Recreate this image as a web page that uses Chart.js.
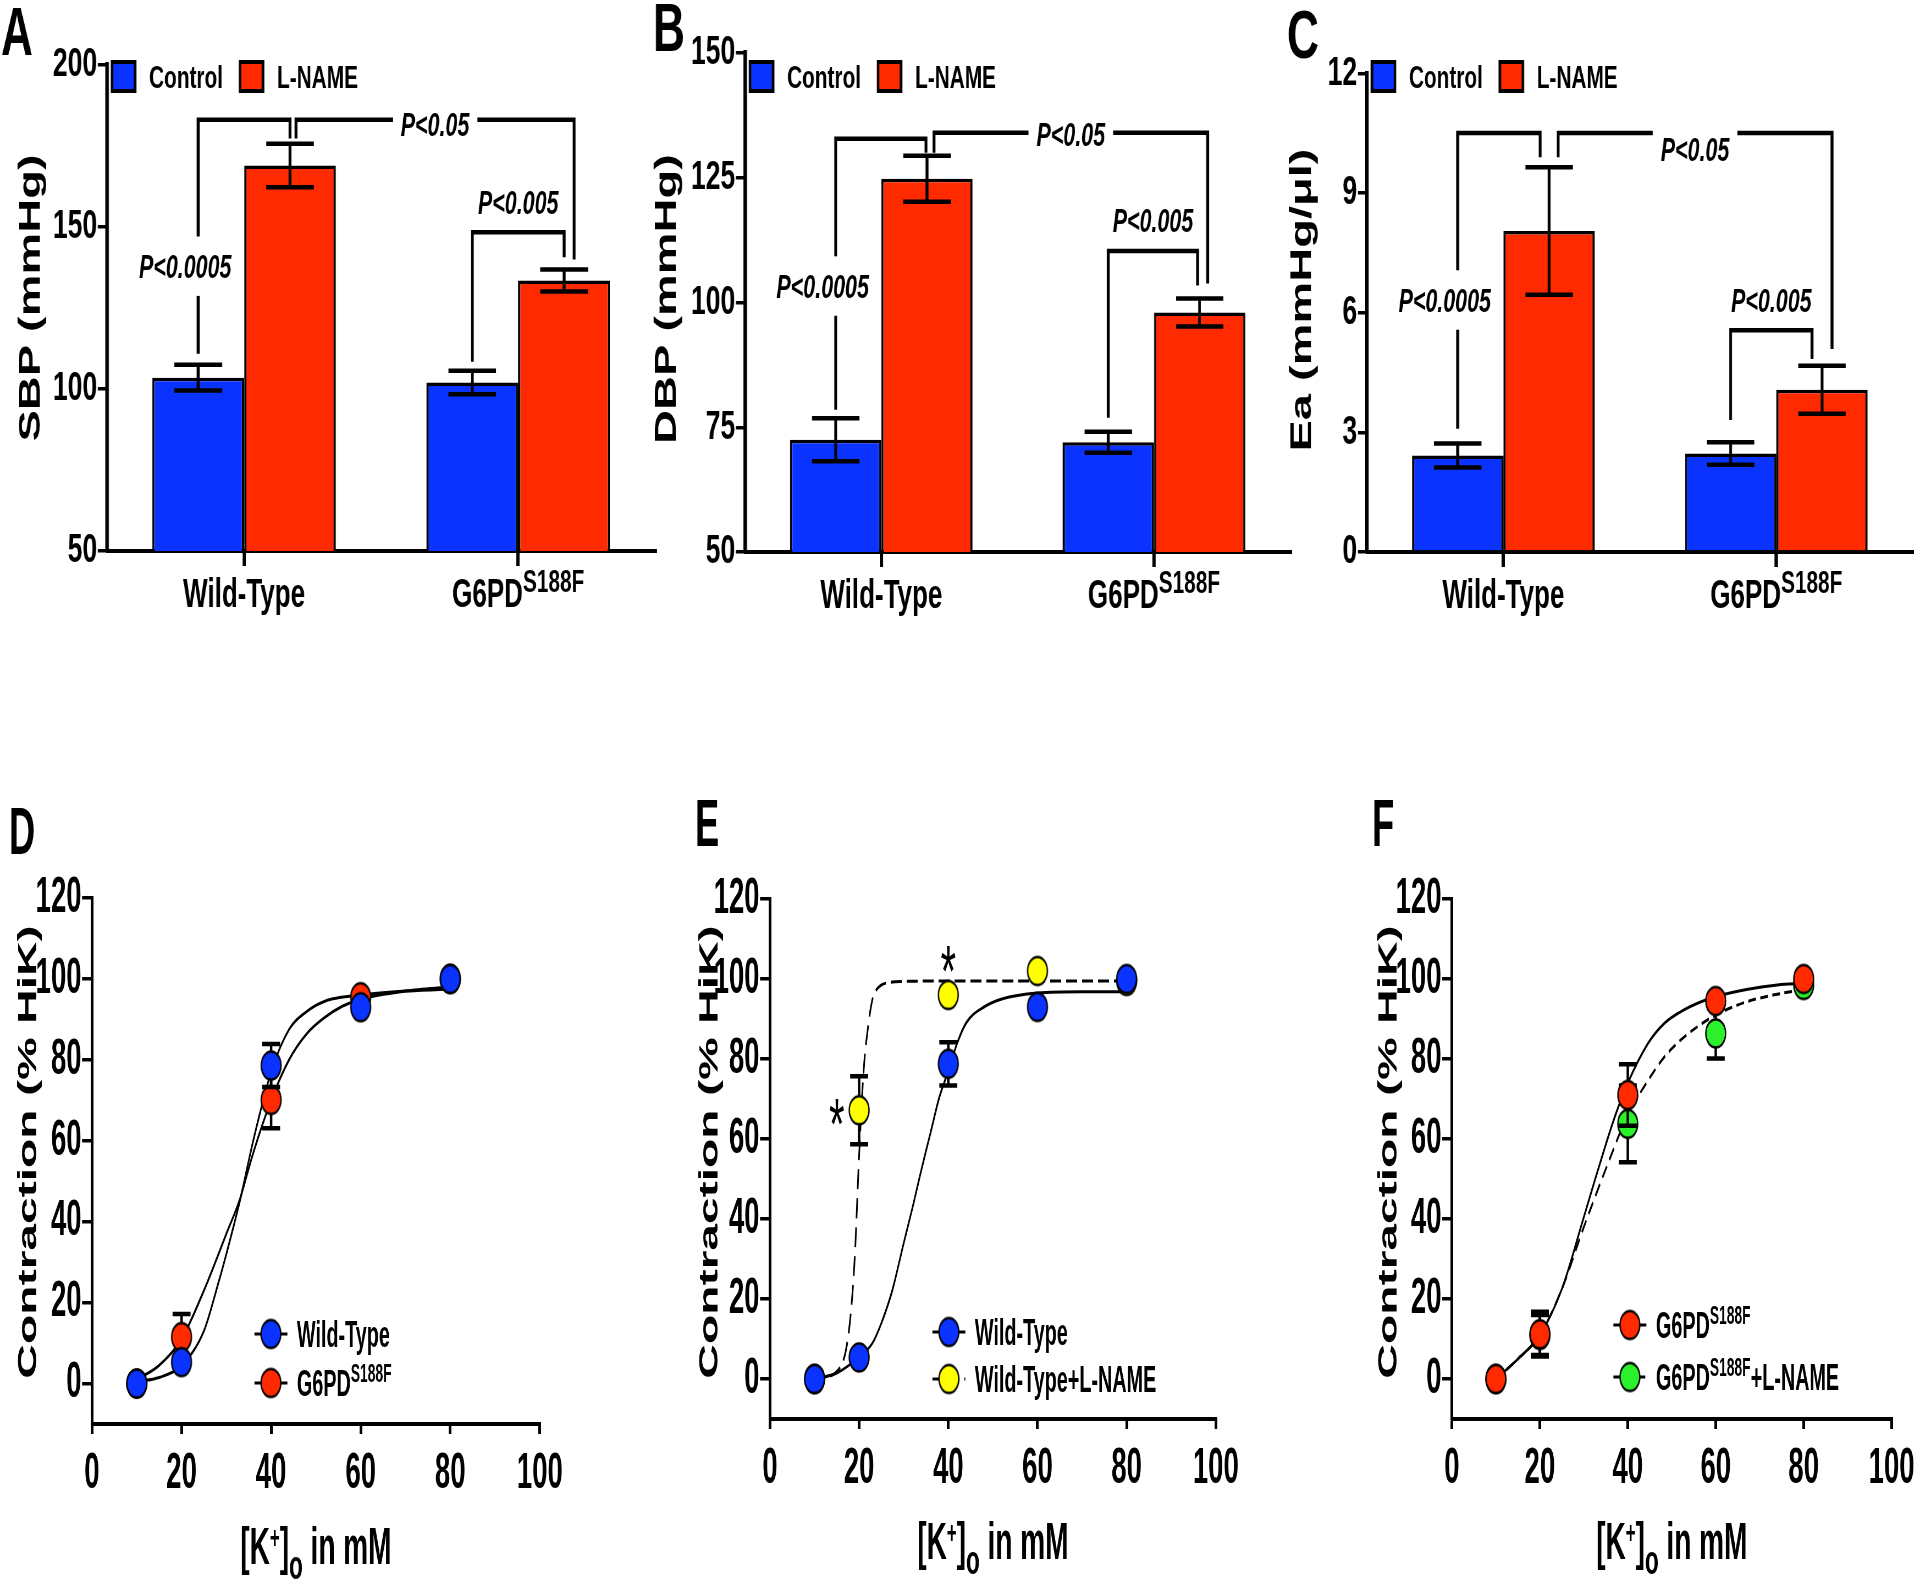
<!DOCTYPE html>
<html>
<head>
<meta charset="utf-8">
<title>Blood pressure and KCl contraction</title>
<script src="https://cdn.jsdelivr.net/npm/chart.js@4.4.1/dist/chart.umd.min.js"></script>
<style>
  html, body { margin: 0; padding: 0; background: #fff; }
  body { position: relative; width: 1920px; height: 1585px; overflow: hidden; }
  canvas { position: absolute; }
</style>
</head>
<body>
<canvas id="chartA"></canvas>
<canvas id="chartB"></canvas>
<canvas id="chartC"></canvas>
<canvas id="chartD"></canvas>
<canvas id="chartE"></canvas>
<canvas id="chartF"></canvas>
<script>
// ---- top row: bar values (mean, SEM)
const groups = ['Wild-Type', 'G6PD^{S188F}']

const sbpControl = [103.5, 102]
const sbpControlErr = [4, 3.6]
const sbpLname = [169, 133.5]
const sbpLnameErr = [6.7, 3.4]

const dbpControl = [72.5, 72]
const dbpControlErr = [4.3, 2.1]
const dbpLname = [124.8, 98]
const dbpLnameErr = [4.6, 2.8]

const eaControl = [2.42, 2.47]
const eaControlErr = [0.3, 0.28]
const eaLname = [8.05, 4.07]
const eaLnameErr = [1.6, 0.6]

// ---- bottom row: KCl concentration-response
const kConc = [10, 20, 40, 60, 80]
const contractionTicks = [0, 20, 40, 60, 80, 100, 120]

const wtD = [0, 5.3, 78.6, 93, 100]
const wtDErr = [0.5, 1.5, 5.3, 1.5, 0.5]
const g6pdD = [0, 11.5, 70.1, 95.5, 100]
const g6pdDErr = [0.5, 5.7, 7, 1.5, 0.5]
const wtFitDx = [10, 15, 20, 25, 28, 30, 33, 36, 40, 44, 48, 52, 60, 70, 80]
const wtFitDy = [0.5, 1.5, 4.5, 13, 24, 32, 45, 60, 77, 87.5, 92, 94.5, 96, 97, 97.5]
const g6pdFitDx = [10, 15, 20, 25, 30, 33, 36, 40, 44, 48, 52, 56, 60, 70, 80]
const g6pdFitDy = [1, 4.5, 11, 23, 37, 45.5, 57, 70, 80, 86.5, 90.5, 93.3, 95, 97, 98]

const wtE = [0, 5.4, 78.8, 93, 100]
const wtEErr = [0.5, 1.5, 5.4, 1.5, 0.5]
const lnameE = [0, 67.2, 96, 102, 99.5]
const lnameEErr = [0.5, 8.5, 3.8, 1.5, 0.5]
const wtFitEx = [10, 15, 20, 23, 25, 27.4, 30, 32, 34, 36, 38, 40, 42, 44, 48, 52, 60, 70, 80]
const wtFitEy = [0, 1.5, 5.5, 9, 14, 22, 34, 43, 52.5, 61.5, 70.5, 77, 84, 89, 93, 95, 96.5, 96.8, 96.8]
const lnameFitEx = [10, 14, 16, 17, 18, 19, 20, 21, 22, 23, 24, 25, 27, 30, 40, 60, 80]
const lnameFitEy = [0, 1, 3.5, 7, 15, 30, 56, 77, 88, 95, 97.5, 98.5, 99.2, 99.4, 99.5, 99.5, 99.5]
const starEx = [15, 40]
const starEy = [66.7, 105]

const g6pdF = [0, 11.2, 71, 94.5, 100]
const g6pdFErr = [0.5, 5.6, 7.7, 1.5, 0.5]
const lnameF = [0, 11, 63.8, 86.4, 98.5]
const lnameFErr = [0.5, 5, 9.6, 6.3, 0.5]
const g6pdFitFx = [10, 15, 20, 25, 30, 33, 37, 40, 44.6, 48.3, 52, 56, 60, 67, 74, 80]
const g6pdFitFy = [0, 5, 11, 22.5, 40.5, 51.5, 65.4, 74, 83.9, 88.9, 91.8, 94, 95.6, 97.4, 98.5, 98.9]
const lnameFitFx = [10, 15, 20, 25, 30, 35, 40, 44.6, 48.3, 52, 56, 60, 67, 74, 80]
const lnameFitFy = [0, 5, 11, 22.5, 38, 52.5, 66, 74.6, 80.5, 84.7, 88.2, 91, 94.3, 96.2, 97.4]

const BLUE = '#0a33ff'
const RED = '#ff2a00'
const YELLOW = '#ffff00'
const GREEN = '#2cf02c'
const FONT = '"Liberation Sans", Arial, Helvetica, sans-serif'

// the original figure is squeezed sideways, so each canvas is drawn wider and shown narrower
const TOP_SQUEEZE = 0.65
const BOTTOM_SQUEEZE = 0.55

function setupCanvas(id, box, squeeze) {
  const c = document.getElementById(id)
  c.width = Math.round(box.w / squeeze)
  c.height = box.h
  c.style.left = box.x + 'px'
  c.style.top = box.y + 'px'
  c.style.width = box.w + 'px'
  c.style.height = box.h + 'px'
  return c
}

// text with ^{sup} and _{sub} parts
function parseRich(str) {
  const parts = []
  const re = /([\^_])\{([^}]*)\}/g
  let last = 0, m
  while ((m = re.exec(str))) {
    if (m.index > last) parts.push({ t: str.slice(last, m.index), k: '' })
    parts.push({ t: m[2], k: m[1] })
    last = re.lastIndex
  }
  if (last < str.length) parts.push({ t: str.slice(last), k: '' })
  return parts
}

function drawRich(ctx, str, x, y, o) {
  const size = o.size
  const style = (o.italic ? 'italic ' : '') + (o.weight || 'bold') + ' '
  const parts = parseRich(str).map(p => {
    let s = size
    if (p.k === '^') s = size * (o.small || 0.72)
    if (p.k === '_') s = size * (o.subSmall || o.small || 0.72)
    ctx.font = style + s + 'px ' + FONT
    return { t: p.t, k: p.k, s, w: ctx.measureText(p.t).width }
  })
  const total = parts.reduce((a, p) => a + p.w, 0)
  let cx = o.align === 'center' ? x - total / 2 : x
  ctx.textAlign = 'left'
  ctx.textBaseline = 'alphabetic'
  parts.forEach(p => {
    ctx.font = style + p.s + 'px ' + FONT
    const dy = p.k === '^' ? -size * (o.rise || 0.38) : p.k === '_' ? size * (o.drop || 0.3) : 0
    ctx.fillText(p.t, cx, y + dy)
    cx += p.w
  })
  return total
}

function drawYTitle(ctx, text, x, y, size) {
  ctx.save()
  ctx.translate(x, y)
  ctx.rotate(-Math.PI / 2)
  ctx.fillStyle = '#000'
  drawRich(ctx, text, 0, size * 0.358, { size, align: 'center' })
  ctx.restore()
}

function drawLetter(ctx, p, S) {
  ctx.save()
  ctx.fillStyle = '#000'
  ctx.font = `bold ${p.letter.size}px ${FONT}`
  ctx.textAlign = 'left'
  ctx.textBaseline = 'alphabetic'
  ctx.fillText(p.letter.text, p.letter.x / S, p.letter.y)
  ctx.restore()
}

// ---------- bar panels (A, B, C)
function makeBarDecor(p, S) {
  return {
    id: 'barDecor',
    afterDatasetsDraw(chart) {
      const ctx = chart.ctx, ys = chart.scales.y
      ctx.save()
      ctx.strokeStyle = '#000'
      ctx.lineWidth = 4.5
      chart.data.datasets.forEach((ds, di) => {
        chart.getDatasetMeta(di).data.forEach((bar, i) => {
          const v = ds.data[i], e = ds.errors[i]
          const yt = ys.getPixelForValue(v + e), yb = ys.getPixelForValue(v - e)
          const half = bar.width * 0.26
          ctx.beginPath()
          ctx.moveTo(bar.x, yt); ctx.lineTo(bar.x, yb)
          ctx.moveTo(bar.x - half, yt); ctx.lineTo(bar.x + half, yt)
          ctx.moveTo(bar.x - half, yb); ctx.lineTo(bar.x + half, yb)
          ctx.stroke()
        })
      })
      ctx.restore()
    },
    afterDraw(chart) {
      const ctx = chart.ctx, area = chart.chartArea
      const xs = chart.scales.x, ys = chart.scales.y
      const px = ([ds, i, shift]) => chart.getDatasetMeta(ds).data[i].x + shift / S

      // significance brackets
      ctx.save()
      ctx.strokeStyle = '#000'
      ctx.lineWidth = 4.5
      p.brackets.forEach(b => {
        const xa = px(b.a), xb = px(b.b), yTop = ys.getPixelForValue(b.y)
        ctx.beginPath()
        ctx.moveTo(xa, ys.getPixelForValue(b.aEnd))
        ctx.lineTo(xa, yTop)
        ctx.lineTo(xb, yTop)
        ctx.lineTo(xb, ys.getPixelForValue(b.bEnd))
        ctx.stroke()
      })
      p.brackets.forEach(b => {
        const size = 33
        const xa = px(b.a), xb = px(b.b)
        const cx = b.at === 'leg' ? xa - 13 / S : (xa + xb) / 2
        const cy = ys.getPixelForValue(b.labelY)
        ctx.font = `italic bold ${size}px ${FONT}`
        const w = ctx.measureText(b.label).width
        if (b.at !== 'above') {
          const padX = 8 / S, h = b.at === 'leg' ? size * 1.8 : size * 1.3
          ctx.fillStyle = '#fff'
          ctx.fillRect(cx - w / 2 - padX, cy - h / 2, w + 2 * padX, h)
        }
        ctx.fillStyle = '#000'
        ctx.textAlign = 'center'
        ctx.textBaseline = 'alphabetic'
        ctx.fillText(b.label, cx, cy + size * 0.358)
      })
      ctx.restore()

      // category labels
      ctx.save()
      ctx.fillStyle = '#000'
      chart.data.labels.forEach((lab, i) => {
        drawRich(ctx, lab, xs.getPixelForValue(i), area.bottom + 56, { size: 40, align: 'center', small: 0.8, rise: 0.38 })
      })
      ctx.restore()

      // legend
      ctx.save()
      let x = area.left + 5 / S
      const boxW = 23 / S, boxH = 29, boxTop = 62
      chart.data.datasets.forEach(ds => {
        ctx.fillStyle = ds.backgroundColor
        ctx.fillRect(x, boxTop, boxW, boxH)
        ctx.lineWidth = 4
        ctx.strokeStyle = '#000'
        ctx.strokeRect(x, boxTop, boxW, boxH)
        x += boxW + 14 / S
        ctx.fillStyle = '#000'
        const w = drawRich(ctx, ds.label, x, boxTop + boxH / 2 + 0.358 * 32, { size: 32 })
        x += w + 17 / S
      })
      ctx.restore()

      drawYTitle(ctx, p.title, p.titleX / S, p.titleY, 47)
      drawLetter(ctx, p, S)
    }
  }
}

function barPanel(id, p) {
  const S = TOP_SQUEEZE
  const canvas = setupCanvas(id, p.box, S)
  const tickFont = { family: FONT, size: 41, weight: 'bold' }
  return new Chart(canvas, {
    type: 'bar',
    data: {
      labels: groups,
      datasets: [
        { label: 'Control', data: p.control, errors: p.controlErr, backgroundColor: BLUE, borderColor: '#000', borderWidth: 3.5 },
        { label: 'L-NAME', data: p.lname, errors: p.lnameErr, backgroundColor: RED, borderColor: '#000', borderWidth: 3.5 }
      ]
    },
    options: {
      responsive: false,
      animation: false,
      devicePixelRatio: 1,
      layout: {
        autoPadding: false,
        padding: { left: 0, top: p.area.top, right: canvas.width - p.area.right / S, bottom: 0 }
      },
      datasets: { bar: { categoryPercentage: 0.67, barPercentage: 1 } },
      plugins: { legend: { display: false }, tooltip: { enabled: false } },
      scales: {
        x: {
          ticks: { display: false },
          grid: { offset: false, drawOnChartArea: false, tickLength: 15, lineWidth: 5, color: '#000' },
          border: { width: 4, color: '#000' },
          afterFit: s => { s.height = p.box.h - p.area.bottom }
        },
        y: {
          min: p.min,
          max: p.max,
          ticks: { stepSize: p.step, font: tickFont, color: '#000', padding: 1 },
          grid: { drawOnChartArea: false, tickLength: 14, lineWidth: 3.5, color: '#000' },
          border: { width: 5.5, color: '#000' },
          afterFit: s => { s.width = p.area.left / S }
        }
      }
    },
    plugins: [makeBarDecor(p, S)]
  })
}

barPanel('chartA', {
  box: { x: 0, y: 0, w: 660, h: 640 },
  area: { left: 107, right: 655, top: 65, bottom: 551 },
  min: 50, max: 200, step: 50,
  control: sbpControl, controlErr: sbpControlErr, lname: sbpLname, lnameErr: sbpLnameErr,
  title: 'SBP (mmHg)', titleX: 28.6, titleY: 298,
  letter: { text: 'A', x: 1, y: 55, size: 68 },
  brackets: [
    { a: [0, 0, 0], b: [1, 0, 0], y: 183.1, aEnd: 110.9, bEnd: 177.3, label: 'P<0.0005', at: 'leg', labelY: 137.9 },
    { a: [1, 0, 6], b: [1, 1, 10], y: 183.1, aEnd: 177.3, bEnd: 140, label: 'P<0.05', at: 'mid', labelY: 181.7 },
    { a: [0, 1, 0], b: [1, 1, 0], y: 148.4, aEnd: 108.4, bEnd: 140.7, label: 'P<0.005', at: 'above', labelY: 157.8 }
  ]
})

barPanel('chartB', {
  box: { x: 640, y: 0, w: 660, h: 640 },
  area: { left: 105, right: 650, top: 53, bottom: 552 },
  min: 50, max: 150, step: 25,
  control: dbpControl, controlErr: dbpControlErr, lname: dbpLname, lnameErr: dbpLnameErr,
  title: 'DBP (mmHg)', titleX: 24.5, titleY: 299,
  letter: { text: 'B', x: 13, y: 51, size: 68 },
  brackets: [
    { a: [0, 0, 0], b: [1, 0, -1], y: 132.8, aEnd: 78.5, bEnd: 130, label: 'P<0.0005', at: 'leg', labelY: 103.3 },
    { a: [1, 0, 7], b: [1, 1, 8], y: 134, aEnd: 130, bEnd: 103.8, label: 'P<0.05', at: 'mid', labelY: 133.8 },
    { a: [0, 1, 0], b: [1, 1, -2], y: 110.3, aEnd: 76.9, bEnd: 103.4, label: 'P<0.005', at: 'above', labelY: 116.5 }
  ]
})

barPanel('chartC', {
  box: { x: 1280, y: 0, w: 640, h: 640 },
  area: { left: 87, right: 633, top: 73.5, bottom: 552 },
  min: 0, max: 12, step: 3,
  control: eaControl, controlErr: eaControlErr, lname: eaLname, lnameErr: eaLnameErr,
  title: 'Ea (mmHg/μl)', titleX: 20.4, titleY: 300,
  letter: { text: 'C', x: 7, y: 58, size: 68 },
  brackets: [
    { a: [0, 0, 0], b: [1, 0, -9], y: 10.51, aEnd: 3.09, bEnd: 9.9, label: 'P<0.0005', at: 'leg', labelY: 6.32 },
    { a: [1, 0, 9], b: [1, 1, 10], y: 10.51, aEnd: 9.9, bEnd: 5.09, label: 'P<0.05', at: 'mid', labelY: 10.1 },
    { a: [0, 1, 0], b: [1, 1, -10], y: 5.56, aEnd: 3.31, bEnd: 4.84, label: 'P<0.005', at: 'above', labelY: 6.32 }
  ]
})

// ---------- concentration-response panels (D, E, F)
const MARK_RX = 18
const MARK_RY = 14

// filled ellipse marker, used as the Chart.js point style
function markerImage(color) {
  const bw = 2.5
  const c = document.createElement('canvas')
  c.width = Math.ceil(2 * (MARK_RX + bw))
  c.height = Math.ceil(2 * (MARK_RY + bw))
  const g = c.getContext('2d')
  g.beginPath()
  g.ellipse(c.width / 2, c.height / 2, MARK_RX, MARK_RY, 0, 0, Math.PI * 2)
  g.fillStyle = color
  g.fill()
  g.lineWidth = bw
  g.strokeStyle = '#000'
  g.stroke()
  return c
}

function makeCurveDecor(p, S) {
  return {
    id: 'curveDecor',
    beforeDatasetDraw(chart, args) {
      const ds = chart.data.datasets[args.index]
      if (!ds.errors) return
      const ctx = chart.ctx, ys = chart.scales.y
      const capHalf = 9 / S
      ctx.save()
      ctx.strokeStyle = '#000'
      ctx.lineWidth = 4.5
      args.meta.data.forEach((pt, i) => {
        const v = ds.data[i].y, e = ds.errors[i]
        const yt = ys.getPixelForValue(v + e), yb = ys.getPixelForValue(v - e)
        if (pt.y - yt < MARK_RY + 2) return // hidden behind the marker
        ctx.beginPath()
        ctx.moveTo(pt.x, yt); ctx.lineTo(pt.x, yb)
        ctx.moveTo(pt.x - capHalf, yt); ctx.lineTo(pt.x + capHalf, yt)
        ctx.moveTo(pt.x - capHalf, yb); ctx.lineTo(pt.x + capHalf, yb)
        ctx.stroke()
      })
      ctx.restore()
    },
    afterDraw(chart) {
      const ctx = chart.ctx, area = chart.chartArea
      const xs = chart.scales.x, ys = chart.scales.y

      // asterisks
      ctx.save()
      ctx.fillStyle = '#000'
      ctx.font = `72px ${FONT}`
      ctx.textAlign = 'center'
      ctx.textBaseline = 'alphabetic'
      ;(p.starX || []).forEach((sx, i) => {
        const mt = ctx.measureText('*')
        const cy = ys.getPixelForValue(p.starY[i]) + (mt.actualBoundingBoxAscent - mt.actualBoundingBoxDescent) / 2
        ctx.fillText('*', xs.getPixelForValue(sx), cy)
      })
      ctx.restore()

      // legend
      ctx.save()
      const mx = area.left + p.legend.dx / S
      chart.data.datasets.slice(0, p.series.length).forEach((ds, k) => {
        const s = p.series[k]
        const my = area.top + p.legend.dy + k * p.legend.gap
        ctx.strokeStyle = '#000'
        ctx.lineWidth = 3
        ctx.setLineDash(s.dash || [])
        ctx.beginPath()
        ctx.moveTo(mx - 30, my); ctx.lineTo(mx + 30, my)
        ctx.stroke()
        ctx.setLineDash([])
        const img = ds.pointStyle
        ctx.drawImage(img, mx - img.width / 2, my - img.height / 2)
        ctx.fillStyle = '#000'
        drawRich(ctx, ds.label, mx + 26 / S, my + 0.358 * 36, { size: 36, small: 0.7, rise: 0.38 })
      })
      ctx.restore()

      // x title
      ctx.save()
      ctx.fillStyle = '#000'
      drawRich(ctx, '[K^{+}]_{o} in mM', (area.left + area.right) / 2, area.bottom + 140, { size: 51, align: 'center', small: 0.6, subSmall: 0.8, rise: 0.32, drop: 0.3 })
      ctx.restore()

      drawYTitle(ctx, 'Contraction (% HiK)', p.titleX / S, p.titleY, 48)
      drawLetter(ctx, p, S)
    }
  }
}

function curvePanel(id, p) {
  const S = BOTTOM_SQUEEZE
  const canvas = setupCanvas(id, p.box, S)
  const tickFont = { family: FONT, size: 50, weight: 'bold' }
  const pts = (xs, ys) => xs.map((x, i) => ({ x, y: ys[i] }))
  const pointSets = p.series.map((s, k) => ({
    label: s.label,
    data: pts(kConc, s.y),
    errors: s.err,
    backgroundColor: s.color,
    borderColor: '#000',
    pointStyle: markerImage(s.color),
    pointRadius: MARK_RX,
    clip: false,
    order: k
  }))
  const fitSets = p.series.map((s, k) => ({
    type: 'line',
    data: pts(s.fitX, s.fitY),
    borderColor: '#000',
    borderWidth: 3,
    borderDash: s.dash || [],
    pointRadius: 0,
    cubicInterpolationMode: 'monotone',
    fill: false,
    clip: false,
    order: 2 + k
  }))
  return new Chart(canvas, {
    type: 'scatter',
    data: { datasets: pointSets.concat(fitSets) },
    options: {
      responsive: false,
      animation: false,
      devicePixelRatio: 1,
      layout: {
        autoPadding: false,
        padding: { left: 0, top: p.area.top, right: canvas.width - p.area.right / S, bottom: 0 }
      },
      plugins: { legend: { display: false }, tooltip: { enabled: false } },
      scales: {
        x: {
          type: 'linear',
          min: 0,
          max: 100,
          ticks: { stepSize: 20, font: tickFont, color: '#000', padding: 10, maxRotation: 0 },
          grid: { drawOnChartArea: false, tickLength: 10, lineWidth: 5, color: '#000' },
          border: { width: 4, color: '#000' },
          afterFit: s => { s.height = p.box.h - p.area.bottom }
        },
        y: {
          min: -10,
          max: 120,
          ticks: { font: tickFont, color: '#000', padding: 1 },
          afterBuildTicks: s => { s.ticks = contractionTicks.map(v => ({ value: v })) },
          grid: { drawOnChartArea: false, tickLength: 18, lineWidth: 3.5, color: '#000' },
          border: { width: 5, color: '#000' },
          afterFit: s => { s.width = p.area.left / S }
        }
      }
    },
    plugins: [makeCurveDecor(p, S)]
  })
}

curvePanel('chartD', {
  box: { x: 0, y: 780, w: 640, h: 805 },
  area: { left: 92, right: 540, top: 118, bottom: 644 },
  titleX: 27, titleY: 372,
  letter: { text: 'D', x: 9, y: 74, size: 66 },
  legend: { dx: 179, dy: 436, gap: 49 },
  series: [
    { label: 'Wild-Type', y: wtD, err: wtDErr, color: BLUE, fitX: wtFitDx, fitY: wtFitDy },
    { label: 'G6PD^{S188F}', y: g6pdD, err: g6pdDErr, color: RED, fitX: g6pdFitDx, fitY: g6pdFitDy }
  ]
})

curvePanel('chartE', {
  box: { x: 640, y: 780, w: 640, h: 805 },
  area: { left: 130, right: 576, top: 119, bottom: 639 },
  titleX: 68, titleY: 372,
  letter: { text: 'E', x: 55, y: 66, size: 66 },
  legend: { dx: 179, dy: 433, gap: 47 },
  starX: starEx, starY: starEy,
  series: [
    { label: 'Wild-Type', y: wtE, err: wtEErr, color: BLUE, fitX: wtFitEx, fitY: wtFitEy },
    { label: 'Wild-Type+L-NAME', y: lnameE, err: lnameEErr, color: YELLOW, fitX: lnameFitEx, fitY: lnameFitEy, dash: [20, 9] }
  ]
})

curvePanel('chartF', {
  box: { x: 1280, y: 780, w: 640, h: 805 },
  area: { left: 172, right: 616, top: 119, bottom: 639 },
  titleX: 107, titleY: 372,
  letter: { text: 'F', x: 92, y: 66, size: 66 },
  legend: { dx: 178, dy: 426, gap: 52 },
  series: [
    { label: 'G6PD^{S188F}', y: g6pdF, err: g6pdFErr, color: RED, fitX: g6pdFitFx, fitY: g6pdFitFy },
    { label: 'G6PD^{S188F}+L-NAME', y: lnameF, err: lnameFErr, color: GREEN, fitX: lnameFitFx, fitY: lnameFitFy, dash: [14, 8] }
  ]
})
</script>
</body>
</html>
